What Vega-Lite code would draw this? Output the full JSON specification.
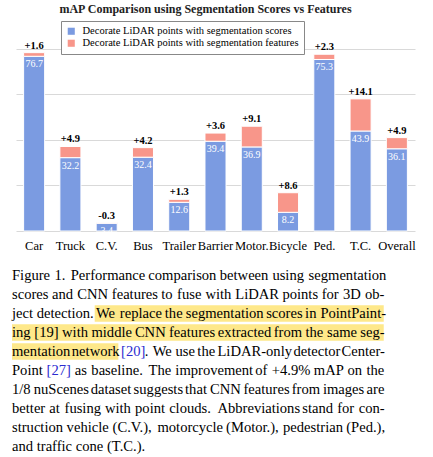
{
  "$schema": "https://vega.github.io/schema/vega-lite/v6.json",
  "background": "white",
  "padding": {"left": 12, "right": 0, "top": 3, "bottom": 0},
  "spacing": 14,
  "config": {"view": {"stroke": null}, "font": "Liberation Serif, Times New Roman, Times, serif"},
  "datasets": {
    "bars": [
      {"cat": "Car", "series": "Decorate LiDAR points with segmentation scores", "v": 76.7, "o": 1},
      {"cat": "Car", "series": "Decorate LiDAR points with segmentation features", "v": 1.6, "o": 2},
      {"cat": "Truck", "series": "Decorate LiDAR points with segmentation scores", "v": 32.2, "o": 1},
      {"cat": "Truck", "series": "Decorate LiDAR points with segmentation features", "v": 4.9, "o": 2},
      {"cat": "C.V.", "series": "Decorate LiDAR points with segmentation scores", "v": 3.4, "o": 1},
      {"cat": "C.V.", "series": "Decorate LiDAR points with segmentation features", "v": 0.3, "o": 2},
      {"cat": "Bus", "series": "Decorate LiDAR points with segmentation scores", "v": 32.4, "o": 1},
      {"cat": "Bus", "series": "Decorate LiDAR points with segmentation features", "v": 4.2, "o": 2},
      {"cat": "Trailer", "series": "Decorate LiDAR points with segmentation scores", "v": 12.6, "o": 1},
      {"cat": "Trailer", "series": "Decorate LiDAR points with segmentation features", "v": 1.3, "o": 2},
      {"cat": "Barrier", "series": "Decorate LiDAR points with segmentation scores", "v": 39.4, "o": 1},
      {"cat": "Barrier", "series": "Decorate LiDAR points with segmentation features", "v": 3.6, "o": 2},
      {"cat": "Motor.", "series": "Decorate LiDAR points with segmentation scores", "v": 36.9, "o": 1},
      {"cat": "Motor.", "series": "Decorate LiDAR points with segmentation features", "v": 9.1, "o": 2},
      {"cat": "Bicycle", "series": "Decorate LiDAR points with segmentation scores", "v": 8.2, "o": 1},
      {"cat": "Bicycle", "series": "Decorate LiDAR points with segmentation features", "v": 8.6, "o": 2},
      {"cat": "Ped.", "series": "Decorate LiDAR points with segmentation scores", "v": 75.3, "o": 1},
      {"cat": "Ped.", "series": "Decorate LiDAR points with segmentation features", "v": 2.3, "o": 2},
      {"cat": "T.C.", "series": "Decorate LiDAR points with segmentation scores", "v": 43.9, "o": 1},
      {"cat": "T.C.", "series": "Decorate LiDAR points with segmentation features", "v": 14.1, "o": 2},
      {"cat": "Overall", "series": "Decorate LiDAR points with segmentation scores", "v": 36.1, "o": 1},
      {"cat": "Overall", "series": "Decorate LiDAR points with segmentation features", "v": 4.9, "o": 2}
    ],
    "labels": [
      {"cat": "Car", "base": 76.7, "top": 78.3, "d": "+1.6"},
      {"cat": "Truck", "base": 32.2, "top": 37.1, "d": "+4.9"},
      {"cat": "C.V.", "base": 3.4, "top": 3.7, "d": "-0.3"},
      {"cat": "Bus", "base": 32.4, "top": 36.6, "d": "+4.2"},
      {"cat": "Trailer", "base": 12.6, "top": 13.9, "d": "+1.3"},
      {"cat": "Barrier", "base": 39.4, "top": 43.0, "d": "+3.6"},
      {"cat": "Motor.", "base": 36.9, "top": 46.0, "d": "+9.1"},
      {"cat": "Bicycle", "base": 8.2, "top": 16.8, "d": "+8.6"},
      {"cat": "Ped.", "base": 75.3, "top": 77.6, "d": "+2.3"},
      {"cat": "T.C.", "base": 43.9, "top": 58.0, "d": "+14.1"},
      {"cat": "Overall", "base": 36.1, "top": 41.0, "d": "+4.9"}
    ],
    "caption": [
      {"line": 1, "pos": 0, "text": "Figure", "c": "black"},
      {"line": 1, "pos": 46.7, "text": "1.", "c": "black"},
      {"line": 1, "pos": 64.6, "text": "Performance", "c": "black"},
      {"line": 1, "pos": 150.0, "text": "comparison", "c": "black"},
      {"line": 1, "pos": 228.6, "text": "between", "c": "black"},
      {"line": 1, "pos": 286.5, "text": "using", "c": "black"},
      {"line": 1, "pos": 326.3, "text": "segmentation", "c": "black"},
      {"line": 2, "pos": 0, "text": "scores", "c": "black"},
      {"line": 2, "pos": 44.1, "text": "and", "c": "black"},
      {"line": 2, "pos": 71.8, "text": "CNN", "c": "black"},
      {"line": 2, "pos": 109.8, "text": "features", "c": "black"},
      {"line": 2, "pos": 164.2, "text": "to", "c": "black"},
      {"line": 2, "pos": 181.6, "text": "fuse", "c": "black"},
      {"line": 2, "pos": 212.8, "text": "with", "c": "black"},
      {"line": 2, "pos": 245.7, "text": "LiDAR", "c": "black"},
      {"line": 2, "pos": 297.5, "text": "points", "c": "black"},
      {"line": 2, "pos": 340.7, "text": "for", "c": "black"},
      {"line": 2, "pos": 364.1, "text": "3D", "c": "black"},
      {"line": 2, "pos": 388.4, "text": "ob-", "c": "black"},
      {"line": 3, "pos": 0, "text": "ject", "c": "black"},
      {"line": 3, "pos": 27.1, "text": "detection.", "c": "black"},
      {"line": 3, "pos": 92.4, "text": "We", "c": "black"},
      {"line": 3, "pos": 118.6, "text": "replace", "c": "black"},
      {"line": 3, "pos": 168.1, "text": "the", "c": "black"},
      {"line": 3, "pos": 191.2, "text": "segmentation", "c": "black"},
      {"line": 3, "pos": 279.6, "text": "scores", "c": "black"},
      {"line": 3, "pos": 322.5, "text": "in", "c": "black"},
      {"line": 3, "pos": 339.3, "text": "PointPaint-", "c": "black"},
      {"line": 4, "pos": 0, "text": "ing", "c": "black"},
      {"line": 4, "pos": 24.6, "text": "[19]", "c": "black"},
      {"line": 4, "pos": 55.1, "text": "with", "c": "black"},
      {"line": 4, "pos": 87.4, "text": "middle", "c": "black"},
      {"line": 4, "pos": 135.2, "text": "CNN", "c": "black"},
      {"line": 4, "pos": 172.7, "text": "features", "c": "black"},
      {"line": 4, "pos": 226.5, "text": "extracted", "c": "black"},
      {"line": 4, "pos": 288.0, "text": "from", "c": "black"},
      {"line": 4, "pos": 322.9, "text": "the", "c": "black"},
      {"line": 4, "pos": 346.6, "text": "same", "c": "black"},
      {"line": 4, "pos": 383.2, "text": "seg-", "c": "black"},
      {"line": 5, "pos": 0, "text": "mentation", "c": "black"},
      {"line": 5, "pos": 65.8, "text": "network", "c": "black"},
      {"line": 5, "pos": 120.0, "text": "[20]", "c": "#2b2bd0"},
      {"line": 5, "pos": 146.0, "text": ".", "c": "black"},
      {"line": 5, "pos": 154.8, "text": "We", "c": "black"},
      {"line": 5, "pos": 179.8, "text": "use", "c": "black"},
      {"line": 5, "pos": 203.9, "text": "the", "c": "black"},
      {"line": 5, "pos": 226.0, "text": "LiDAR-only", "c": "black"},
      {"line": 5, "pos": 309.6, "text": "detector", "c": "black"},
      {"line": 5, "pos": 362.5, "text": "Center-", "c": "black"},
      {"line": 6, "pos": 0, "text": "Point", "c": "black"},
      {"line": 6, "pos": 38.0, "text": "[27]", "c": "#2b2bd0"},
      {"line": 6, "pos": 69.1, "text": "as", "c": "black"},
      {"line": 6, "pos": 87.3, "text": "baseline.", "c": "black"},
      {"line": 6, "pos": 150.3, "text": "The", "c": "black"},
      {"line": 6, "pos": 179.7, "text": "improvement", "c": "black"},
      {"line": 6, "pos": 267.6, "text": "of", "c": "black"},
      {"line": 6, "pos": 285.8, "text": "+4.9%", "c": "black"},
      {"line": 6, "pos": 332.1, "text": "mAP", "c": "black"},
      {"line": 6, "pos": 369.2, "text": "on", "c": "black"},
      {"line": 6, "pos": 390.0, "text": "the", "c": "black"},
      {"line": 7, "pos": 0, "text": "1/8", "c": "black"},
      {"line": 7, "pos": 23.9, "text": "nuScenes", "c": "black"},
      {"line": 7, "pos": 86.6, "text": "dataset", "c": "black"},
      {"line": 7, "pos": 133.8, "text": "suggests", "c": "black"},
      {"line": 7, "pos": 190.4, "text": "that", "c": "black"},
      {"line": 7, "pos": 217.8, "text": "CNN", "c": "black"},
      {"line": 7, "pos": 254.6, "text": "features", "c": "black"},
      {"line": 7, "pos": 307.8, "text": "from", "c": "black"},
      {"line": 7, "pos": 342.1, "text": "images", "c": "black"},
      {"line": 7, "pos": 390.1, "text": "are", "c": "black"},
      {"line": 8, "pos": 0, "text": "better", "c": "black"},
      {"line": 8, "pos": 40.9, "text": "at", "c": "black"},
      {"line": 8, "pos": 57.8, "text": "fusing", "c": "black"},
      {"line": 8, "pos": 102.2, "text": "with", "c": "black"},
      {"line": 8, "pos": 135.4, "text": "point", "c": "black"},
      {"line": 8, "pos": 172.9, "text": "clouds.", "c": "black"},
      {"line": 8, "pos": 226.0, "text": "Abbreviations", "c": "black"},
      {"line": 8, "pos": 319.4, "text": "stand", "c": "black"},
      {"line": 8, "pos": 357.8, "text": "for", "c": "black"},
      {"line": 8, "pos": 381.5, "text": "con-", "c": "black"},
      {"line": 9, "pos": 0, "text": "struction", "c": "black"},
      {"line": 9, "pos": 60.1, "text": "vehicle", "c": "black"},
      {"line": 9, "pos": 110.7, "text": "(C.V.),", "c": "black"},
      {"line": 9, "pos": 160.0, "text": "motorcycle", "c": "black"},
      {"line": 9, "pos": 235.5, "text": "(Motor.),", "c": "black"},
      {"line": 9, "pos": 298.2, "text": "pedestrian", "c": "black"},
      {"line": 9, "pos": 367.7, "text": "(Ped.),", "c": "black"},
      {"line": 10, "pos": 0, "text": "and traffic cone (T.C.).", "c": "black"}
    ],
    "hl": [
      {"line": 3, "x0": 91, "x1": 409},
      {"line": 4, "x0": 0, "x1": 409},
      {"line": 5, "x0": 0, "x1": 117}
    ]
  },
  "vconcat": [
    {
      "width": 399,
      "height": 205,
      "title": {"text": "mAP Comparison using Segmentation Scores vs Features", "fontSize": 12, "fontWeight": "bold", "color": "#222", "anchor": "middle", "dx": -10, "offset": 10},
      "data": {"name": "bars"},
      "layer": [
        {
          "mark": {"type": "bar", "stroke": "white", "strokeWidth": 1},
          "encoding": {
            "x": {"field": "cat", "type": "nominal", "sort": null,
                  "scale": {"paddingInner": 0.42, "paddingOuter": 0.21},
                  "axis": {"title": null, "labelAngle": 0, "labelFontSize": 12.5, "labelColor": "black", "ticks": false, "domain": false, "labelPadding": 8}},
            "y": {"field": "v", "type": "quantitative", "stack": "zero",
                  "scale": {"domain": [0, 90], "nice": false},
                  "axis": {"title": null, "labels": false, "ticks": false, "domain": false, "grid": true, "gridColor": "#d9d9d9", "values": [0, 10, 20, 30, 40, 50, 60, 70, 80, 90]}},
            "color": {"field": "series", "type": "nominal",
                      "scale": {"domain": ["Decorate LiDAR points with segmentation scores", "Decorate LiDAR points with segmentation features"], "range": ["#7b9be1", "#f8968a"]},
                      "legend": {"title": null, "orient": "none", "legendX": 45, "legendY": -5, "direction": "vertical", "padding": 5, "strokeColor": "#888", "fillColor": "white", "symbolType": "square", "symbolSize": 50, "symbolStrokeWidth": 0, "symbolOpacity": 1, "labelFontSize": 10.5, "labelColor": "black", "rowPadding": 1, "labelOffset": 6, "labelLimit": 400}},
            "order": {"field": "o", "type": "quantitative"}
          }
        },
        {
          "data": {"name": "labels"},
          "mark": {"type": "text", "color": "white", "baseline": "top", "dy": 3, "fontSize": 10},
          "encoding": {
            "x": {"field": "cat", "type": "nominal", "sort": null},
            "y": {"field": "base", "type": "quantitative"},
            "text": {"field": "base", "type": "quantitative", "format": ".1f"}
          }
        },
        {
          "data": {"name": "labels"},
          "mark": {"type": "text", "color": "black", "baseline": "bottom", "dy": -2, "fontSize": 10.5, "fontWeight": "bold"},
          "encoding": {
            "x": {"field": "cat", "type": "nominal", "sort": null},
            "y": {"field": "top", "type": "quantitative"},
            "text": {"field": "d", "type": "nominal"}
          }
        }
      ]
    },
    {
      "width": 401,
      "height": 190,
      "layer": [
        {
          "data": {"name": "hl"},
          "mark": {"type": "rect", "color": "#fee88a"},
          "encoding": {
            "y": {"field": "line", "type": "ordinal", "scale": {"domain": [1,2,3,4,5,6,7,8,9,10], "paddingInner": 0.12, "paddingOuter": 0.06}, "axis": null},
            "x": {"field": "x0", "type": "quantitative", "scale": {"domain": [0, 409], "range": [-4, 405]}, "axis": null},
            "x2": {"field": "x1"}
          }
        },
        {
          "data": {"name": "caption"},
          "mark": {"type": "text", "align": "left", "baseline": "middle", "fontSize": 14.6},
          "encoding": {
            "y": {"field": "line", "type": "ordinal"},
            "x": {"field": "pos", "type": "quantitative"},
            "text": {"field": "text"},
            "color": {"field": "c", "type": "nominal", "scale": null}
          }
        }
      ]
    }
  ]
}
